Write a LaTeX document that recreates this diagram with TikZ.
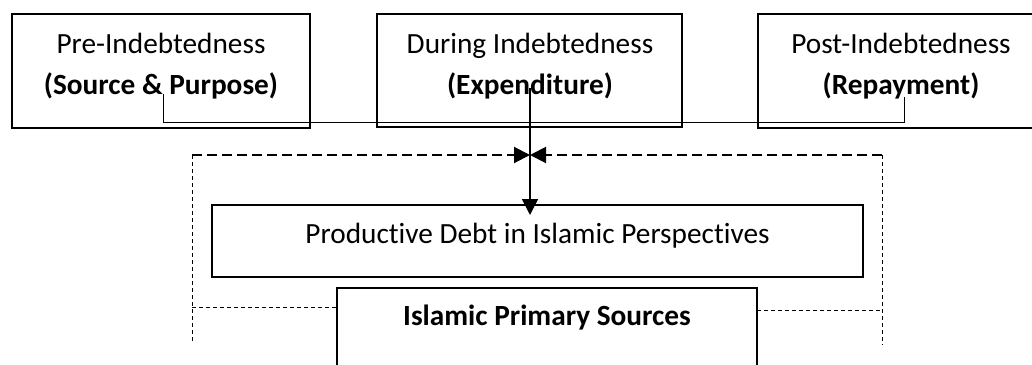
\documentclass[tikz,border=0pt]{standalone}
\usepackage{fontspec}
\setmainfont{Carlito}[RawFeature={-liga}]
\usetikzlibrary{arrows.meta}
\begin{document}
\begin{tikzpicture}[x=1pt,y=-1pt,
  boxst/.style={draw=black,line width=1.9pt,inner sep=0pt,outer sep=0pt},
  txt/.style={anchor=base,inner sep=0pt,font=\fontsize{29.3}{35}\selectfont},
  btxt/.style={txt,font=\fontsize{29.3}{35}\selectfont\bfseries},
  thin/.style={line width=0.9pt},
  thickdash/.style={line width=2pt,dash pattern=on 10pt off 5pt},
  thindash/.style={line width=0.8pt,dash pattern=on 4pt off 3pt},
  tip/.style={-{Triangle[length=16pt,width=16pt]}}]
\useasboundingbox (0,0) rectangle (1032,364);
\clip (0,0) rectangle (1032,364);
% boxes
\node[boxst,minimum width=298pt,minimum height=114pt] (b1) at (161,71) {};
\node[boxst,minimum width=305pt,minimum height=113pt] (b2) at (529.5,70.5) {};
\node[boxst,minimum width=286pt,minimum height=114pt] (b3) at (901,71) {};
\node[boxst,minimum width=651pt,minimum height=72pt] (prod) at (537.5,241) {};
\node[boxst,minimum width=420pt,minimum height=90pt] (isl) at (547,333) {};
% texts
\node[txt] (t1a) at (161,53) {Pre-Indebtedness};
\node[btxt] (t1b) at (161,94) {(Source \& Purpose)};
\node[txt] (t2a) at (530,53) {During Indebtedness};
\node[btxt] (t2b) at (530,94) {(Expenditure)};
\node[txt] (t3a) at (901,53) {Post-Indebtedness};
\node[btxt] (t3b) at (901,94) {(Repayment)};
\node[txt] (tp) at (537.5,243) {Productive Debt in Islamic Perspectives};
\node[btxt] (ti) at (547,325) {Islamic Primary Sources};
% connector coordinates
\coordinate (c1) at (163,94);
\coordinate (c3) at (904,97);
\coordinate (c2) at (530,88);
\coordinate (m) at (530,155);
\coordinate (dl) at (192,155);
\coordinate (dr) at (882,155);
\coordinate (dlb) at (192,343);
\coordinate (drb) at (882,345);
% thin connector
\draw[thin] (c1) -- (c1 |- 0,122) -- (c3 |- 0,122) -- (c3);
% vertical arrow
\draw[line width=1.6pt,tip] (c2) -- (c2 |- prod.north) -- ++(0,10);
% dashed frame
\draw[thickdash,tip] (dl) -- (m);
\draw[thickdash,tip] (dr) -- (m);
\draw[thindash] (dl) -- (dlb);
\draw[thindash] (dr) -- (drb);
\draw[thindash] (dl |- 0,307) -- (isl.west |- 0,307);
\draw[thindash] (isl.east |- 0,310) -- (dr |- 0,310);
\end{tikzpicture}
\end{document}
